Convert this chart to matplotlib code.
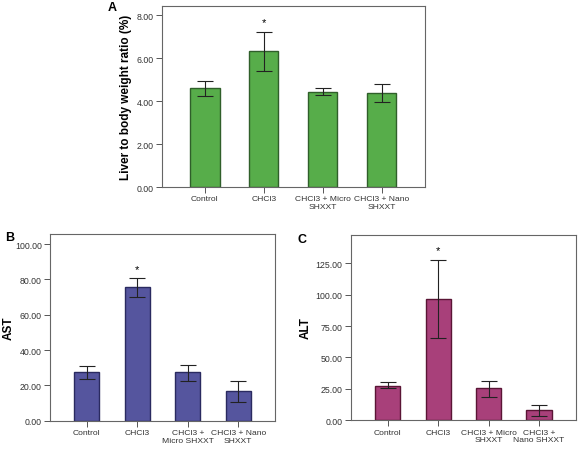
import matplotlib
matplotlib.use("Agg")
import matplotlib.pyplot as plt
import numpy as np

plt.rcParams['font.family'] = ['Liberation Sans', 'DejaVu Sans']

labels_a = ['Control', 'CHCl3', 'CHCl3 + Micro\nSHXXT', 'CHCl3 + Nano\nSHXXT']
labels_b = ['Control', 'CHCl3', 'CHCl3 +\nMicro SHXXT', 'CHCl3 + Nano\nSHXXT']
labels_c = ['Control', 'CHCl3', 'CHCl3 + Micro\nSHXXT', 'CHCl3 +\nNano SHXXT']

# liver/body weight ratio (%)
ratio_mean = [4.60, 6.34, 4.43, 4.40]
ratio_lo = [4.25, 5.42, 4.28, 3.97]
ratio_hi = [4.96, 7.24, 4.59, 4.78]

# AST
ast_mean = [27.4, 75.5, 27.7, 16.6]
ast_lo = [23.6, 69.8, 22.6, 10.4]
ast_hi = [31.1, 80.6, 31.7, 22.6]

# ALT
alt_mean = [27.5, 96.6, 25.5, 8.2]
alt_lo = [25.5, 65.3, 18.8, 3.7]
alt_hi = [30.2, 127.9, 31.0, 12.4]

fig = plt.figure(figsize=(5.8, 4.52), dpi=100)


def panel(rect, means, lo, hi, labels, color, edge, ylabel, yticks, ytop, letter, letter_xy, ylab_x):
    ax = fig.add_axes(rect)
    x = np.arange(len(means))
    means = np.array(means)
    err = [means - np.array(lo), np.array(hi) - means]
    ax.bar(x, means, width=0.5, color=color, edgecolor=edge, linewidth=1.0, zorder=2)
    ax.errorbar(x, means, yerr=err, fmt='none', ecolor='#222222', elinewidth=0.8,
                capsize=6, capthick=0.8, zorder=3)
    ax.text(1, hi[1] + ytop * 0.025, '*', ha='center', va='bottom', fontsize=8)
    ax.set_xlim(-0.73, 3.73)
    ax.set_ylim(0, ytop)
    ax.set_yticks(yticks)
    ax.set_yticklabels(['%.2f' % v for v in yticks], fontsize=6.3, color='#333333')
    ax.set_xticks(x)
    ax.set_xticklabels(labels, fontsize=6.1, color='#333333', linespacing=1.1)
    ax.tick_params(length=4, width=0.7, color='#555555', pad=2)
    for s in ax.spines.values():
        s.set_color('#666666')
        s.set_linewidth(0.8)
    ax.set_ylabel(ylabel, fontsize=8.5, fontweight='bold')
    ax.yaxis.set_label_coords(ylab_x, 0.5)
    fig.text(letter_xy[0], letter_xy[1], letter, fontsize=9, fontweight='bold',
             ha='left', va='top')
    return ax


panel([0.279, 0.584, 0.453, 0.400], ratio_mean, ratio_lo, ratio_hi, labels_a,
      '#57ad4a', '#2f5f2a', 'Liver to body weight ratio (%)',
      [0, 2, 4, 6, 8], 8.42, 'A', (0.186, 0.995), -0.115)
panel([0.0862, 0.067, 0.388, 0.413], ast_mean, ast_lo, ast_hi, labels_b,
      '#55559e', '#2a2a60', 'AST',
      [0, 20, 40, 60, 80, 100], 105.7, 'B', (0.008, 0.487), -0.155)
panel([0.605, 0.068, 0.388, 0.4106], alt_mean, alt_lo, alt_hi, labels_c,
      '#a8407a', '#5a1535', 'ALT',
      [0, 25, 50, 75, 100, 125], 147.8, 'C', (0.513, 0.482), -0.175)

fig.savefig('out.png', dpi=100)
